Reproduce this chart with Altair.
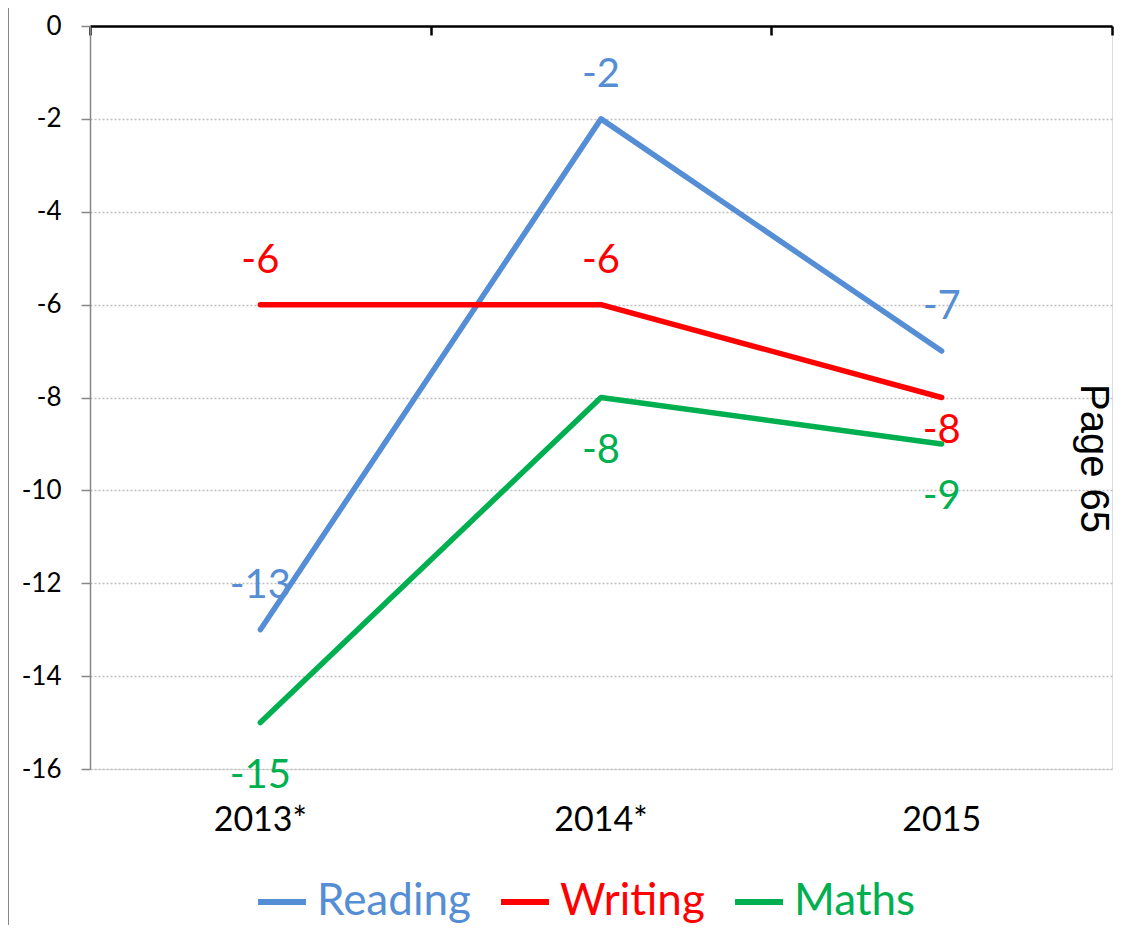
import altair as alt
import pandas as pd

years = ["2013*", "2014*", "2015"]
series_names = ["Reading", "Writing", "Maths"]
reading = [-13, -2, -7]
writing = [-6, -6, -8]
maths = [-15, -8, -9]
colors = ["#558ED5", "#FF0000", "#00B050"]
y_ticks = [0, -2, -4, -6, -8, -10, -12, -14, -16]

rows = []
for name, vals in zip(series_names, [reading, writing, maths]):
    for yr, v in zip(years, vals):
        rows.append({"year": yr, "series": name, "value": v, "label": str(v)})
df = pd.DataFrame(rows)

W, H = 1022, 743

x_scale = alt.Scale(domain=years, paddingInner=0, paddingOuter=0)
y_scale = alt.Scale(domain=[-16, 0], nice=False, zero=False)
color_scale = alt.Scale(domain=series_names, range=colors)

label_color_expr = ("datum.label == 'Reading' ? '#558ED5' : "
                    "datum.label == 'Writing' ? '#FF0000' : '#00B050'")

lines = alt.Chart(df).mark_line(strokeWidth=5.5, strokeCap="round", strokeJoin="round").encode(
    x=alt.X("year:N", scale=x_scale, sort=years,
            axis=alt.Axis(title=None, orient="bottom", domain=False, ticks=False, grid=False,
                          labelAngle=0, labelFontSize=34, labelColor="black",
                          labelPadding=34, labelFont="Lato")),
    y=alt.Y("value:Q", scale=y_scale,
            axis=alt.Axis(title=None, values=y_ticks, labelExpr="'' + datum.value",
                          domainColor="#868686", domainWidth=1.5, tickColor="#868686",
                          tickWidth=1.5, tickSize=9, labelPadding=20, labelFontSize=26,
                          labelColor="black", labelFont="Lato",
                          grid=True, gridColor="#BFBFBF", gridDash=[2, 2], gridWidth=1.5)),
    color=alt.Color("series:N", scale=color_scale, sort=series_names,
                    legend=alt.Legend(title=None, orient="none", direction="horizontal",
                                      legendX=165, legendY=849,
                                      symbolType="stroke", symbolSize=2300,
                                      symbolStrokeWidth=6, labelFontSize=44, labelFont="Lato",
                                      labelColor={"expr": label_color_expr},
                                      labelOffset=8, columnPadding=18,
                                      labelLimit=400)),
)

dy_expr = ("datum.series == 'Maths' ? 53 : "
           "(datum.series == 'Writing' && datum.year == '2015') ? 33 : -44")

texts = alt.Chart(df).mark_text(fontSize=40, font="Lato", baseline="middle", align="center",
                                dy=alt.expr(dy_expr)).encode(
    x=alt.X("year:N", scale=x_scale, sort=years,
            axis=alt.Axis(title=None, orient="bottom", offset=-H, labels=False,
                          domain=True, domainColor="black", domainWidth=2.5,
                          ticks=True, tickColor="black", tickWidth=2.5, tickSize=9,
                          tickBand="extent", grid=False)),
    y=alt.Y("value:Q", scale=y_scale,
            axis=alt.Axis(title="Page 65", orient="right", labels=False, ticks=False,
                          domain=False, grid=False, titleAngle=90, titleFont="Liberation Sans",
                          titleFontSize=40, titleFontWeight="normal", titleColor="black",
                          titleX=-20, titleY=432, titleAlign="center", titleBaseline="middle")),
    text="label:N",
    color=alt.Color("series:N", scale=color_scale, sort=series_names, legend=None),
)

border = alt.Chart(pd.DataFrame({"series": ["border"]})).mark_rule(
    color="#888888", strokeWidth=2).encode(
    x=alt.value(-82), y=alt.value(-18), y2=alt.value(H + 156)
)

chart = alt.layer(lines, texts, border).resolve_axis(x="independent", y="independent").properties(
    width=W, height=H,
    autosize=alt.AutoSizeParams(type="none"),
    padding={"left": 82, "top": 18, "right": 8, "bottom": 156},
).configure_view(stroke=None).configure(font="Lato")

chart.save("out.html", embed_options={"renderer": "svg", "actions": False})
